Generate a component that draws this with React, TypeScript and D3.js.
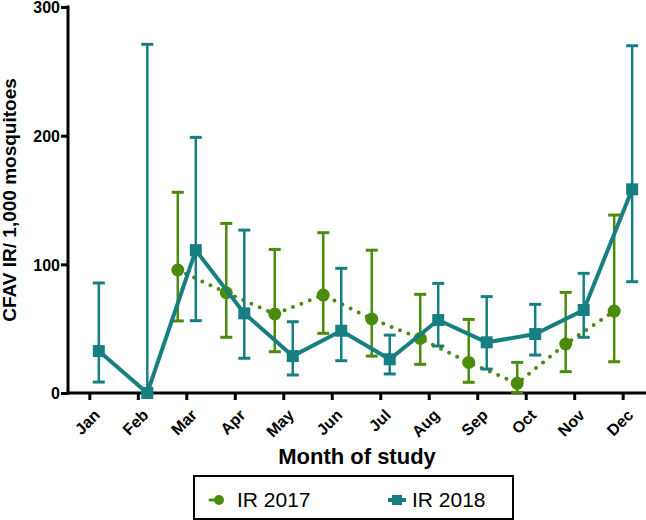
import React, { useRef, useEffect } from "react";
import * as d3 from "d3";

// months on the x axis
const months = ["Jan", "Feb", "Mar", "Apr", "May", "Jun", "Jul", "Aug", "Sep", "Oct", "Nov", "Dec"];
const yTicks = [0, 100, 200, 300];

// IR 2017 (no data Jan/Feb)
const ir2017 = [null, null, 95.6, 78, 61.4, 76.1, 57.5, 42.5, 23.8, 7.5, 38.1, 63.7];
const ir2017Hi = [null, null, 156, 131.8, 111.6, 124.6, 111, 76.7, 57.2, 23.8, 78.2, 138.3];
const ir2017Lo = [null, null, 56, 43.3, 32.1, 46.4, 28.7, 22.3, 8.3, 0.5, 16.6, 24.3];

// IR 2018
const ir2018 = [32.6, 0, 111, 61.9, 28.7, 48.4, 26.2, 56.7, 39.4, 45.8, 64.5, 158.3];
const ir2018Hi = [85.5, 271, 198.7, 126.6, 55.4, 96.9, 45, 85.2, 74.9, 68.9, 93, 269.9];
const ir2018Lo = [8.5, 0, 56.2, 27, 14, 25.1, 14.8, 36.5, 18.6, 29.5, 43.3, 86.5];

const GREEN = "#4a8b0c";
const TEAL = "#177f82";
const FONT = "'Liberation Sans', Arial, sans-serif";

function App() {
  const svgRef = useRef<SVGSVGElement>(null);

  useEffect(() => {
    const svg = d3.select(svgRef.current);
    svg.selectAll("*").remove();

    const x = d3.scalePoint<string>().domain(months).range([68, 645]).padding(0.45);
    const y = d3.scaleLinear().domain([0, 300]).range([393, 7]);

    // axes
    const yAxis = svg.append("g").attr("transform", "translate(68,0)");
    yAxis
      .call(d3.axisLeft(y).tickValues(yTicks).tickSize(7).tickPadding(1))
      .call((g) => g.select(".domain").remove());
    yAxis.selectAll("line").attr("stroke", "#000").attr("stroke-width", 3);
    yAxis
      .selectAll("text")
      .attr("font-family", FONT)
      .attr("font-weight", "bold")
      .attr("font-size", 16)
      .attr("dy", "0.36em")
      .attr("fill", "#000");
    yAxis
      .append("line")
      .attr("y1", y(300) - 1.5)
      .attr("y2", y(0) + 1.5)
      .attr("stroke", "#000")
      .attr("stroke-width", 3);

    const xAxis = svg.append("g").attr("transform", `translate(0,${y(0)})`);
    xAxis
      .append("line")
      .attr("x1", 66.5)
      .attr("x2", 646)
      .attr("stroke", "#000")
      .attr("stroke-width", 3);
    xAxis
      .selectAll("line.tick")
      .data(months)
      .join("line")
      .attr("class", "tick")
      .attr("x1", (d) => x(d)!)
      .attr("x2", (d) => x(d)!)
      .attr("y1", 0)
      .attr("y2", 7)
      .attr("stroke", "#000")
      .attr("stroke-width", 3);
    xAxis
      .selectAll("text")
      .data(months)
      .join("text")
      .attr("transform", (d) => `translate(${x(d)! + 3},${15}) rotate(-45)`)
      .attr("text-anchor", "end")
      .attr("dy", "0.72em")
      .attr("font-family", FONT)
      .attr("font-weight", "bold")
      .attr("font-size", 16)
      .text((d) => d);

    // axis titles
    svg
      .append("text")
      .attr("transform", `translate(16,${(y(0) + y(300)) / 2}) rotate(-90)`)
      .attr("text-anchor", "middle")
      .attr("font-family", FONT)
      .attr("font-weight", "bold")
      .attr("font-size", 19)
      .text("CFAV IR/ 1,000 mosquitoes");
    svg
      .append("text")
      .attr("x", 357)
      .attr("y", 464)
      .attr("text-anchor", "middle")
      .attr("font-family", FONT)
      .attr("font-weight", "bold")
      .attr("font-size", 22)
      .text("Month of study");

    const drawSeries = (
      vals: (number | null)[],
      hi: (number | null)[],
      lo: (number | null)[],
      offset: number,
      color: string,
      kind: "circle" | "square"
    ) => {
      const pts = months
        .map((m, i) => ({ m, v: vals[i], h: hi[i], l: lo[i] }))
        .filter((d) => d.v != null) as { m: string; v: number; h: number; l: number }[];
      const g = svg.append("g");
      const px = (d: { m: string }) => x(d.m)! + offset;

      // error bars
      g.selectAll("line.err")
        .data(pts)
        .join("line")
        .attr("x1", px)
        .attr("x2", px)
        .attr("y1", (d) => y(d.h))
        .attr("y2", (d) => y(d.l))
        .attr("stroke", color)
        .attr("stroke-width", 2.5);
      for (const key of ["h", "l"] as const) {
        g.selectAll(`line.cap${key}`)
          .data(pts)
          .join("line")
          .attr("class", `cap${key}`)
          .attr("x1", (d) => px(d) - 6)
          .attr("x2", (d) => px(d) + 6)
          .attr("y1", (d) => y(d[key]))
          .attr("y2", (d) => y(d[key]))
          .attr("stroke", color)
          .attr("stroke-width", 3);
      }

      const line = d3
        .line<{ m: string; v: number }>()
        .x(px)
        .y((d) => y(d.v));
      g.append("path")
        .datum(pts)
        .attr("d", line)
        .attr("fill", "none")
        .attr("stroke", color)
        .attr("stroke-width", 4)
        .attr("stroke-linecap", "round")
        .attr("stroke-dasharray", kind === "square" ? null : "0 9");

      if (kind === "circle") {
        g.selectAll("circle")
          .data(pts)
          .join("circle")
          .attr("cx", px)
          .attr("cy", (d) => y(d.v))
          .attr("r", 6.5)
          .attr("fill", color);
      } else {
        g.selectAll("rect")
          .data(pts)
          .join("rect")
          .attr("x", (d) => px(d) - 6)
          .attr("y", (d) => y(d.v) - 6)
          .attr("width", 12)
          .attr("height", 12)
          .attr("fill", color);
      }
    };

    drawSeries(ir2017, ir2017Hi, ir2017Lo, -9, GREEN, "circle");
    drawSeries(ir2018, ir2018Hi, ir2018Lo, 9, TEAL, "square");

    // legend
    const leg = svg.append("g");
    leg
      .append("rect")
      .attr("x", 194)
      .attr("y", 476)
      .attr("width", 319)
      .attr("height", 43)
      .attr("fill", "none")
      .attr("stroke", "#000")
      .attr("stroke-width", 2);
    leg
      .append("line")
      .attr("x1", 210)
      .attr("x2", 218)
      .attr("y1", 500)
      .attr("y2", 500)
      .attr("stroke", GREEN)
      .attr("stroke-width", 3)
      .attr("stroke-linecap", "round");
    leg.append("circle").attr("cx", 219).attr("cy", 500).attr("r", 5).attr("fill", GREEN);
    leg
      .append("line")
      .attr("x1", 388)
      .attr("x2", 406)
      .attr("y1", 500)
      .attr("y2", 500)
      .attr("stroke", TEAL)
      .attr("stroke-width", 4);
    leg.append("rect").attr("x", 392).attr("y", 495).attr("width", 10).attr("height", 10).attr("fill", TEAL);
    leg
      .selectAll("text")
      .data(["IR 2017", "IR 2018"])
      .join("text")
      .attr("x", (_, i) => (i === 0 ? 237 : 412))
      .attr("y", 507)
      .attr("font-family", FONT)
      .attr("font-size", 21)
      .text((d) => d);
  }, []);

  return (
    <svg
      ref={svgRef}
      width={646}
      height={520}
      style={{ position: "absolute", left: 0, top: 0, background: "#fff" }}
    />
  );
}

export default App;
